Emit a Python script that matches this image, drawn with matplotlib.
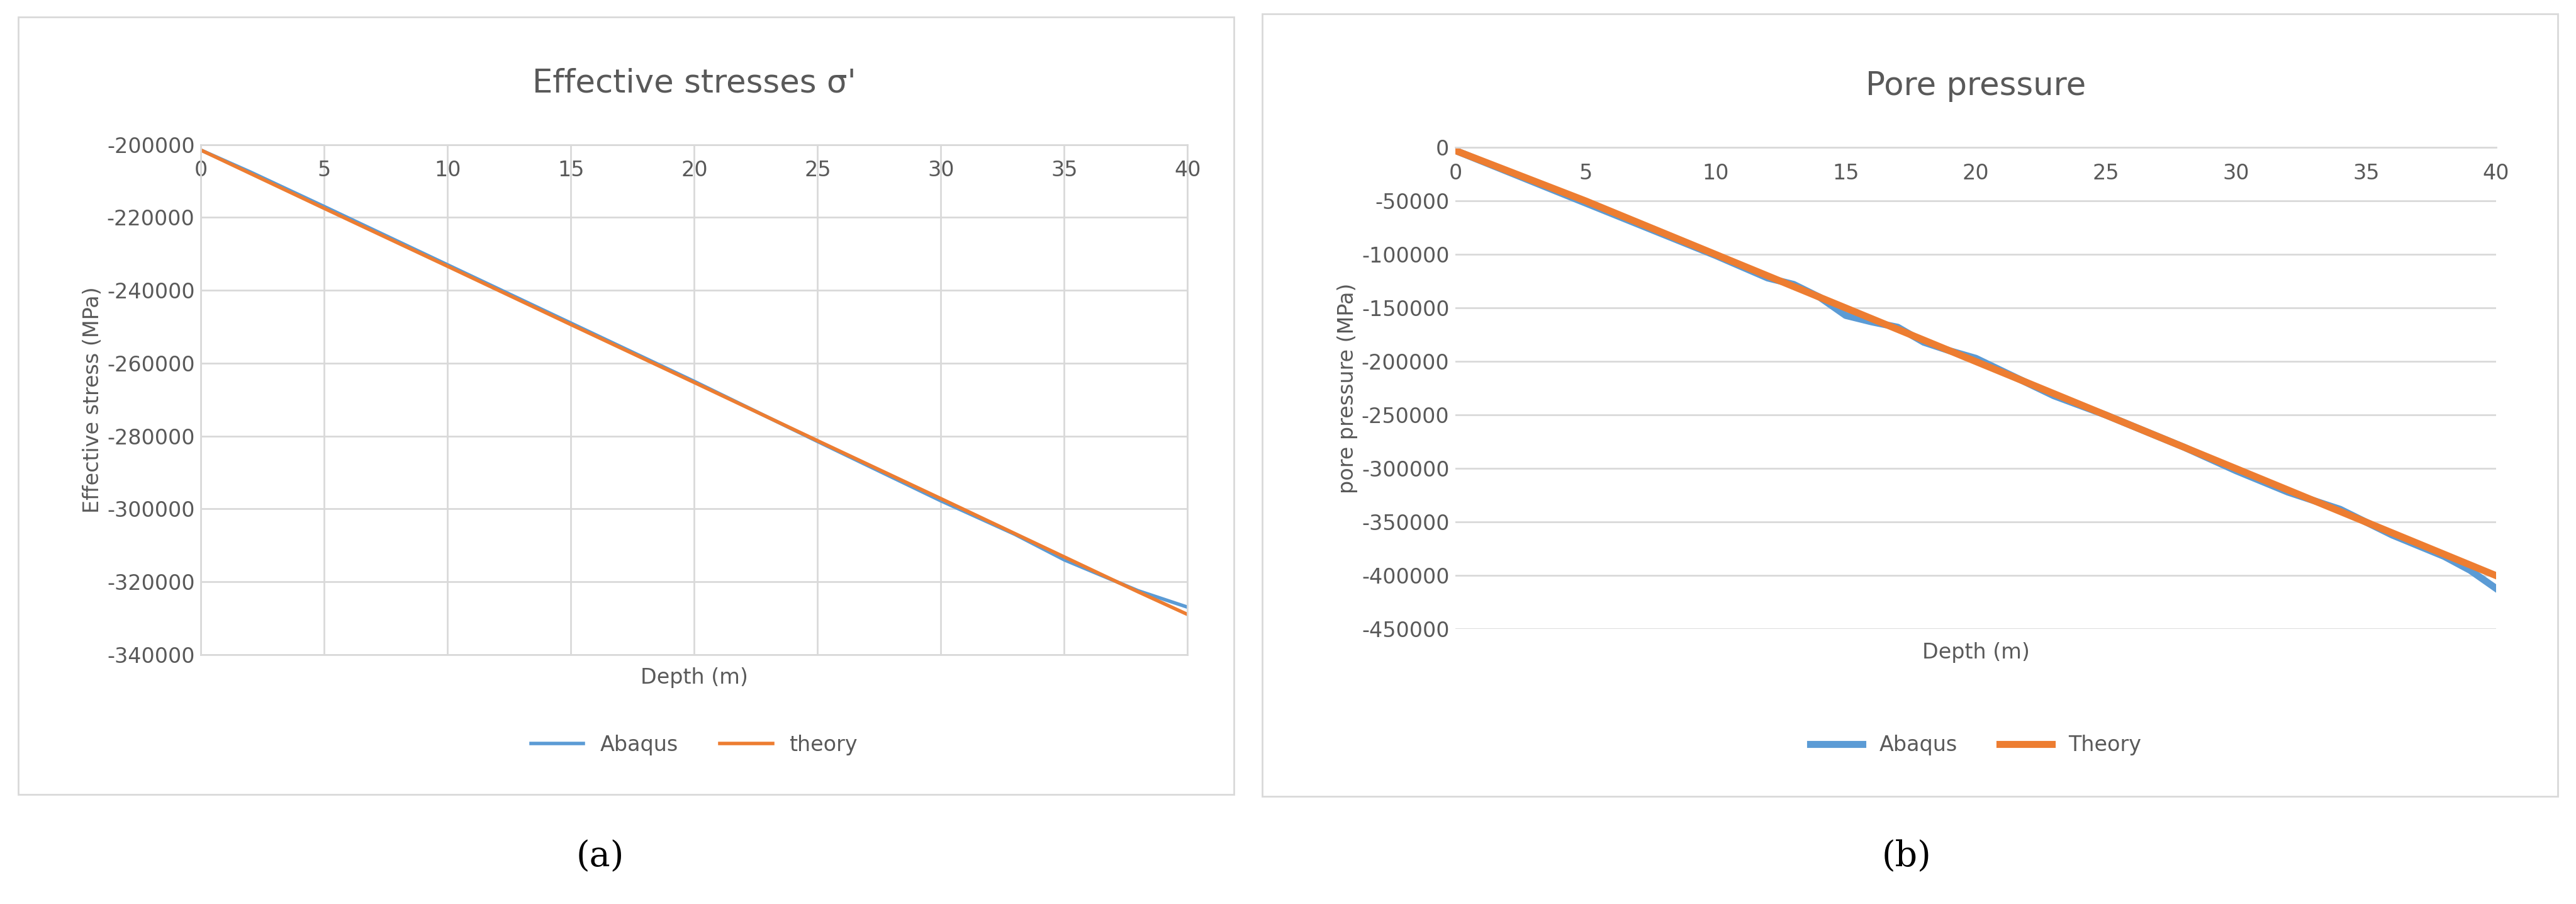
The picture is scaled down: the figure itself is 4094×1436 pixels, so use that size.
import matplotlib
matplotlib.use("Agg")
import matplotlib.pyplot as plt
from matplotlib.patches import Rectangle

plt.rcParams["axes.unicode_minus"] = False

# Effective stresses (panel a)
depth_a = [0, 2, 5, 10, 15, 20, 25, 30, 33, 35, 38, 40]
abaqus_a = [-201500, -207500, -217000, -233000, -249000, -265000, -281500, -297800, -307000, -314000, -322500, -327000]
theory_a = [-201500, -207900, -217500, -233400, -249400, -265300, -281300, -297200, -306800, -313200, -322800, -329000]

# Pore pressure (panel b)
depth_b = [0, 5, 10, 12, 13, 14, 15, 16, 17, 18, 19, 20, 23, 25, 28, 30, 32, 34, 36, 38, 39, 40]
abaqus_b = [-3000, -52000, -101000, -122000, -128000, -140000, -157000, -163000, -168000, -182000, -190000, -197000, -232000, -250000, -280000, -302000, -322000, -338000, -362000, -382000, -395000, -412000]
theory_b = [-3000, -50000, -100000, -120000, -130000, -140000, -150000, -160000, -170000, -180000, -190000, -200000, -230000, -250000, -280000, -300000, -320000, -340000, -360000, -380000, -390000, -400000]

blue = "#5b9bd5"
orange = "#ed7d31"
grey = "#595959"

fig = plt.figure(figsize=(40.94, 14.36), dpi=100)

# panel frames
fig.patches.append(Rectangle((0.007, 0.121), 0.472, 0.860, transform=fig.transFigure,
                             fill=False, edgecolor="#d9d9d9", linewidth=2))
fig.patches.append(Rectangle((0.490, 0.119), 0.503, 0.866, transform=fig.transFigure,
                             fill=False, edgecolor="#d9d9d9", linewidth=2))

# (a)
ax1 = fig.add_axes([0.078, 0.276, 0.383, 0.564])
ax1.plot(depth_a, abaqus_a, color=blue, linewidth=4, label="Abaqus")
ax1.plot(depth_a, theory_a, color=orange, linewidth=4, label="theory")
ax1.set_xlim(0, 40)
ax1.set_ylim(-340000, -200000)
ax1.set_xticks(range(0, 41, 5))
ax1.set_yticks(range(-340000, -199999, 20000))
ax1.grid(True, color="#d9d9d9", linewidth=2)
ax1.set_axisbelow(True)
for s in ax1.spines.values():
    s.set_color("#d9d9d9")
    s.set_linewidth(2)
ax1.tick_params(axis="x", top=False, bottom=False, labeltop=True, labelbottom=False,
                pad=-45, labelsize=24, labelcolor=grey)
ax1.tick_params(axis="y", left=False, labelsize=24, labelcolor=grey)
ax1.set_title("Effective stresses σ'", fontsize=37, color=grey, pad=60)
ax1.set_xlabel("Depth (m)", fontsize=24, color=grey, labelpad=15)
ax1.set_ylabel("Effective stress (MPa)", fontsize=24, color=grey)
ax1.legend(loc="upper center", bbox_to_anchor=(0.5, -0.12), ncol=2, frameon=False,
           fontsize=24, labelcolor=grey, handlelength=2.5)

# (b)
ax2 = fig.add_axes([0.565, 0.304, 0.404, 0.533])
ax2.plot(depth_b, abaqus_b, color=blue, linewidth=8, label="Abaqus")
ax2.plot(depth_b, theory_b, color=orange, linewidth=8, label="Theory")
ax2.set_xlim(0, 40)
ax2.set_ylim(-450000, 0)
ax2.set_xticks(range(0, 41, 5))
ax2.set_yticks(range(-450000, 1, 50000))
ax2.grid(True, axis="y", color="#d9d9d9", linewidth=2)
ax2.set_axisbelow(True)
for name, s in ax2.spines.items():
    s.set_visible(name == "top")
    s.set_color("#d9d9d9")
    s.set_linewidth(2)
ax2.tick_params(axis="x", top=False, bottom=False, labeltop=True, labelbottom=False,
                pad=-45, labelsize=24, labelcolor=grey)
ax2.tick_params(axis="y", left=False, labelsize=24, labelcolor=grey)
ax2.set_title("Pore pressure", fontsize=37, color=grey, pad=60)
ax2.set_xlabel("Depth (m)", fontsize=24, color=grey, labelpad=15)
ax2.set_ylabel("pore pressure (MPa)", fontsize=24, color=grey)
ax2.legend(loc="upper center", bbox_to_anchor=(0.5, -0.18), ncol=2, frameon=False,
           fontsize=24, labelcolor=grey, handlelength=2.5)

fig.text(0.233, 0.052, "(a)", ha="center", va="center", fontsize=40,
         family="DejaVu Serif")
fig.text(0.740, 0.052, "(b)", ha="center", va="center", fontsize=40,
         family="DejaVu Serif")

fig.savefig("out.png", dpi=100)
